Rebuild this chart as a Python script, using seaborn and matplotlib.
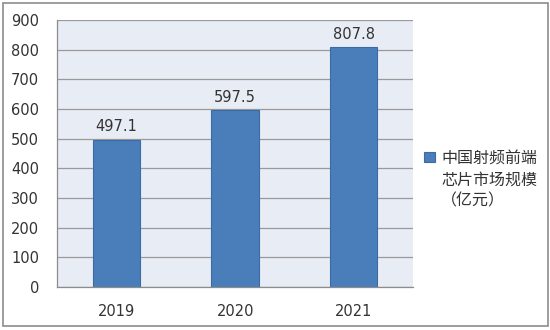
import numpy as np
import pandas as pd
import matplotlib
matplotlib.use("Agg")
import matplotlib.pyplot as plt
import seaborn as sns
from matplotlib.patches import Rectangle

# 数据
years = ["2019", "2020", "2021"]
values = [497.1, 597.5, 807.8]
series_lines = ["中国射频前端", "芯片市场规模", "（亿元）"]

df = pd.DataFrame({"year": years, "value": values})

sns.set_style("white")
plt.rcParams['font.family'] = ['DejaVu Sans', 'Noto Sans CJK SC']

fig = plt.figure(figsize=(5.5, 3.3), dpi=100)
ax = fig.add_axes([0.104, 0.130, 0.647, 0.809])

bar_color = "#4a7ebb"
sns.barplot(data=df, x="year", y="value", color=bar_color, width=0.4,
            edgecolor="#3b6ba3", linewidth=0.8, saturation=1,
            label=series_lines[0], ax=ax)

ax.set_facecolor("#e8ecf5")
ax.set_ylim(0, 900)
ax.set_yticks(np.arange(0, 901, 100))
ax.set_xlim(-0.5, 2.5)
ax.yaxis.grid(True, color="#9a9a9a", linewidth=0.9)
ax.set_axisbelow(True)
ax.set_xlabel("")
ax.set_ylabel("")

for s in ["top", "right"]:
    ax.spines[s].set_visible(False)
for s in ["left", "bottom"]:
    ax.spines[s].set_color("#8c8c8c")
    ax.spines[s].set_linewidth(0.9)

# x轴刻度在类别之间
ax.set_xticks([0, 1, 2])
ax.set_xticks([-0.5, 0.5, 1.5, 2.5], minor=True)
ax.tick_params(axis="x", which="major", length=0, pad=12, labelsize=10.5, colors="#333333")
ax.tick_params(axis="x", which="minor", length=5, direction="out", color="#8c8c8c")
ax.tick_params(axis="y", length=5, direction="out", color="#8c8c8c", labelsize=10.5, colors="#333333", pad=8)

# 数值标签
for i, v in enumerate(values):
    ax.text(i, v + 18, f"{v:.1f}", ha="center", va="bottom", fontsize=10.5, color="#333333")

cjk = ["Noto Sans CJK SC", "DejaVu Sans"]
leg = ax.legend(loc="center left", bbox_to_anchor=(1.0, 0.483), frameon=False,
                handlelength=0.65, handleheight=0.65, handletextpad=0.4,
                borderaxespad=0.3, prop={"family": cjk, "size": 11.5})
leg.get_texts()[0].set_color("#333333")

# 图例其余两行
fig.canvas.draw()
tb = leg.get_texts()[0].get_window_extent()
x0, _ = fig.transFigure.inverted().transform((tb.x0, tb.y0))
for k, line in enumerate(series_lines[1:]):
    fig.text(x0, 1 - (180 + 21 * k) / 330, line, ha="left", va="center",
             family=cjk, fontsize=11.5, color="#333333")

# 外框
fig.patches.append(Rectangle((0.006, 0.012), 0.99, 0.978, transform=fig.transFigure,
                             fill=False, edgecolor="#8c8c8c", linewidth=1.2))

fig.savefig("out.png", dpi=100)
